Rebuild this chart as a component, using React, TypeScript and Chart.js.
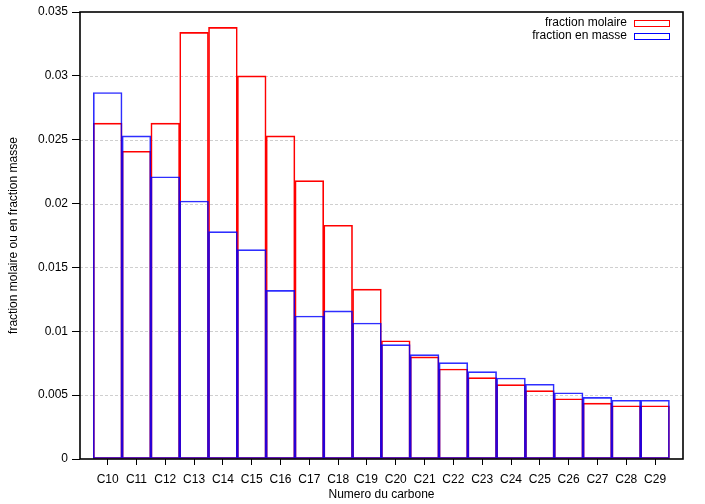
import React, { useEffect, useRef } from "react";
import { Chart, registerables } from "chart.js";

Chart.register(...registerables);

const categories = ["C10", "C11", "C12", "C13", "C14", "C15", "C16", "C17", "C18", "C19", "C20", "C21", "C22", "C23", "C24", "C25", "C26", "C27", "C28", "C29"];
const fractionMolaire = [0.0263, 0.0241, 0.0263, 0.0334, 0.0338, 0.03, 0.0253, 0.0218, 0.0183, 0.0133, 0.00926, 0.008, 0.00705, 0.00637, 0.00582, 0.00535, 0.00472, 0.00438, 0.00417, 0.00417];
const fractionMasse = [0.0287, 0.0253, 0.0221, 0.0202, 0.0178, 0.0164, 0.0132, 0.0112, 0.0116, 0.01065, 0.00895, 0.00817, 0.00754, 0.00684, 0.00634, 0.00585, 0.00519, 0.00483, 0.0046, 0.0046];
const yTicks = [0, 0.005, 0.01, 0.015, 0.02, 0.025, 0.03, 0.035];
const seriesNames = ["fraction molaire", "fraction en masse"];
const xTitle = "Numero du carbone";
const yTitle = "fraction molaire ou en fraction masse";

const FONT = '"Liberation Sans", Arial, Helvetica, sans-serif';
const RED = "rgb(255,0,0)";
const BLUE = "rgba(0,0,255,0.82)";

const overlayPlugin = {
  id: "gnuplotOverlay",
  beforeDatasetsDraw(chart: any) {
    const { ctx, chartArea, scales } = chart;
    const y = scales.y;
    ctx.save();
    ctx.strokeStyle = "#cfcfcf";
    ctx.lineWidth = 1;
    ctx.setLineDash([3, 2]);
    for (const t of yTicks) {
      if (t === 0 || t === 0.035) continue;
      const py = Math.round(y.getPixelForValue(t)) + 0.5;
      ctx.beginPath();
      ctx.moveTo(chartArea.left, py);
      ctx.lineTo(chartArea.right, py);
      ctx.stroke();
    }
    ctx.restore();
  },
  afterDraw(chart: any) {
    const { ctx, chartArea } = chart;
    ctx.save();
    ctx.strokeStyle = "#000";
    ctx.lineWidth = 1.6;
    ctx.strokeRect(chartArea.left, chartArea.top, chartArea.right - chartArea.left, chartArea.bottom - chartArea.top);
    ctx.fillStyle = "#000";
    ctx.font = `12px ${FONT}`;
    ctx.textAlign = "center";
    ctx.textBaseline = "middle";
    ctx.fillText(xTitle, (chartArea.left + chartArea.right) / 2, 495);
    ctx.save();
    ctx.translate(14, (chartArea.top + chartArea.bottom) / 2);
    ctx.rotate(-Math.PI / 2);
    ctx.fillText(yTitle, 0, 0);
    ctx.restore();
    const colors = [RED, "rgb(0,0,255)"];
    const rows = [22.5, 36];
    ctx.textAlign = "right";
    for (let i = 0; i < seriesNames.length; i++) {
      ctx.fillStyle = "#000";
      ctx.fillText(seriesNames[i], 627, rows[i]);
      ctx.strokeStyle = colors[i];
      ctx.lineWidth = 1;
      ctx.strokeRect(634.5, Math.round(rows[i] - 3) + 0.5, 35, 6);
    }
    ctx.restore();
  },
};

export default function App() {
  const canvasRef = useRef<HTMLCanvasElement | null>(null);

  useEffect(() => {
    if (!canvasRef.current) return;
    const tickFont = { family: FONT, size: 12 };
    const chart = new Chart(canvasRef.current, {
      type: "bar",
      data: {
        datasets: [
          {
            label: seriesNames[0],
            data: fractionMolaire.map((v, i) => ({ x: i, y: v })),
            backgroundColor: "rgba(0,0,0,0)",
            borderColor: RED,
            borderWidth: 1,
            borderSkipped: false,
            grouped: false,
            barPercentage: 1,
            categoryPercentage: 1,
            order: 2,
          },
          {
            label: seriesNames[1],
            data: fractionMasse.map((v, i) => ({ x: i, y: v })),
            backgroundColor: "rgba(0,0,0,0)",
            borderColor: BLUE,
            borderWidth: 1,
            borderSkipped: false,
            grouped: false,
            barPercentage: 1,
            categoryPercentage: 1,
            order: 1,
          },
        ],
      } as any,
      options: {
        responsive: false,
        animation: false,
        maintainAspectRatio: false,
        layout: { padding: { left: 0, top: 12, right: 22, bottom: 0 } },
        plugins: { legend: { display: false }, tooltip: { enabled: false }, title: { display: false } },
        scales: {
          x: {
            type: "linear",
            offset: false,
            min: -0.96,
            max: 19.97,
            afterBuildTicks: (s: any) => {
              s.ticks = categories.map((_, i) => ({ value: i }));
            },
            afterFit: (s: any) => {
              s.height = 45;
            },
            ticks: {
              autoSkip: false,
              maxRotation: 0,
              minRotation: 0,
              padding: 7,
              color: "#000",
              font: tickFont,
              callback: (v: any) => categories[Math.round(Number(v))] ?? "",
            },
            grid: { offset: false, drawOnChartArea: false, drawTicks: true, tickLength: 6, tickColor: "#000", color: "#000" },
            border: { display: false },
          },
          y: {
            type: "linear",
            min: 0,
            max: 0.035,
            afterBuildTicks: (s: any) => {
              s.ticks = yTicks.map((v) => ({ value: v }));
            },
            afterFit: (s: any) => {
              s.width = 80;
            },
            ticks: {
              padding: 4,
              color: "#000",
              font: tickFont,
              callback: (v: any) => String(Number(Number(v).toFixed(3))),
            },
            grid: { drawOnChartArea: false, drawTicks: true, tickLength: 8, tickColor: "#000", color: "#000" },
            border: { display: false },
          },
        },
      } as any,
      plugins: [overlayPlugin],
    });
    return () => chart.destroy();
  }, []);

  return (
    <div style={{ position: "fixed", left: 0, top: 0, width: 705, height: 504, background: "#fff" }}>
      <canvas ref={canvasRef} width={705} height={504} style={{ width: 705, height: 504, display: "block" }} />
    </div>
  );
}
